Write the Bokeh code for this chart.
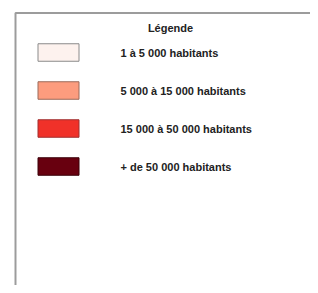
from bokeh.plotting import figure
from bokeh.models import Range1d, ColumnDataSource
from bokeh.core.properties import value
from bokeh.embed import file_html
from bokeh.resources import INLINE

title = "Légende"
labels = ["1 à 5 000 habitants", "5 000 à 15 000 habitants",
          "15 000 à 50 000 habitants", "+ de 50 000 habitants"]
colors = ["#fdf2ee", "#fc9c7e", "#f03129", "#68000f"]
borders = ["#8a8a8a", "#9a6a5a", "#a03030", "#3a0008"]

W, H = 310, 285
p = figure(width=W, height=H, output_backend="svg", toolbar_location=None,
           x_range=Range1d(0, W), y_range=Range1d(H, 0),
           min_border=0, outline_line_color=None)
p.axis.visible = False
p.grid.visible = False
p.background_fill_color = "white"
p.border_fill_color = "white"

# frame
p.line(x=[15, 15, W + 20], y=[H + 20, 12.5, 12.5], line_color="#9c9c9c", line_width=2)

y0, dy = 52, 38
ys = [y0 + i * dy for i in range(len(labels))]
src = ColumnDataSource(dict(y=ys, lab=labels, fill=colors, line=borders))

p.rect(x=58, y="y", width=41, height=17.5, source=src,
       fill_color="fill", line_color="line", line_width=1)
p.text(x=120, y="y", text="lab", source=src, text_font=value("Liberation Sans"),
       text_font_style="bold", text_font_size="11px", text_color="#222222",
       text_baseline="middle", text_align="left")
p.text(x=[170], y=[27], text=[title], text_font=value("Liberation Sans"),
       text_font_style="bold", text_font_size="11px", text_color="#222222",
       text_baseline="middle", text_align="center")

open("out.html", "w").write(file_html(p, INLINE))
